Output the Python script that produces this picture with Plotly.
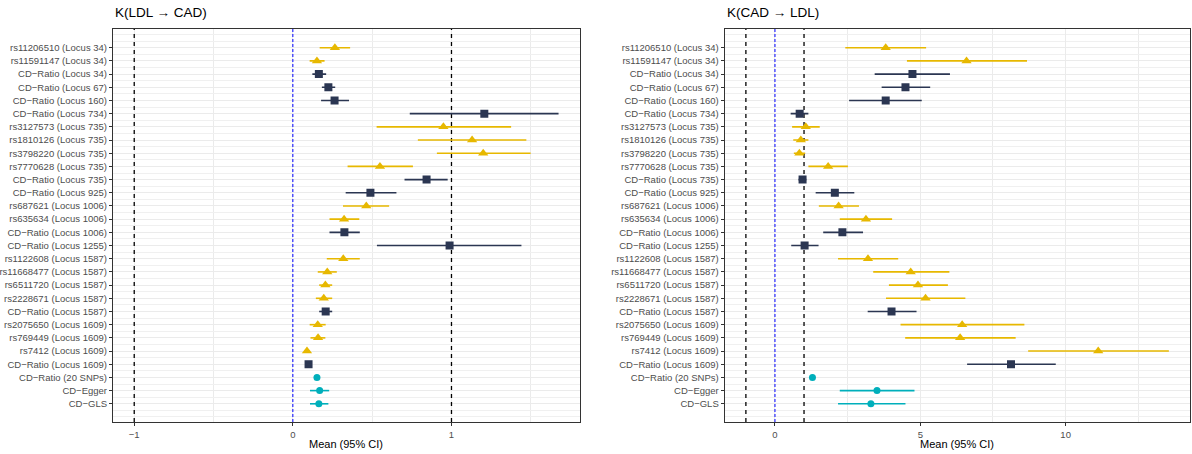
import plotly.graph_objects as go

M = "\u2212"
labels = [
    "rs11206510 (Locus 34)", "rs11591147 (Locus 34)", f"CD{M}Ratio (Locus 34)", f"CD{M}Ratio (Locus 67)",
    f"CD{M}Ratio (Locus 160)", f"CD{M}Ratio (Locus 734)", "rs3127573 (Locus 735)", "rs1810126 (Locus 735)",
    "rs3798220 (Locus 735)", "rs7770628 (Locus 735)", f"CD{M}Ratio (Locus 735)", f"CD{M}Ratio (Locus 925)",
    "rs687621 (Locus 1006)", "rs635634 (Locus 1006)", f"CD{M}Ratio (Locus 1006)", f"CD{M}Ratio (Locus 1255)",
    "rs1122608 (Locus 1587)", "rs11668477 (Locus 1587)", "rs6511720 (Locus 1587)", "rs2228671 (Locus 1587)",
    f"CD{M}Ratio (Locus 1587)", "rs2075650 (Locus 1609)", "rs769449 (Locus 1609)", "rs7412 (Locus 1609)",
    f"CD{M}Ratio (Locus 1609)", f"CD{M}Ratio (20 SNPs)", f"CD{M}Egger", f"CD{M}GLS",
]
kinds = ["snp", "snp", "locus", "locus", "locus", "locus", "snp", "snp", "snp", "snp", "locus", "locus",
         "snp", "snp", "locus", "locus", "snp", "snp", "snp", "snp", "locus", "snp", "snp", "snp",
         "locus", "all", "all", "all"]

# K(LDL -> CAD)
ldl_cad_mean = [0.265, 0.152, 0.164, 0.224, 0.263, 1.207, 0.949, 1.130, 1.200, 0.549, 0.843, 0.489,
                0.463, 0.323, 0.325, 0.988, 0.318, 0.217, 0.205, 0.195, 0.207, 0.157, 0.159, 0.089,
                0.099, 0.152, 0.169, 0.164]
ldl_cad_lo = [0.169, 0.106, 0.123, 0.183, 0.178, 0.737, 0.528, 0.788, 0.908, 0.345, 0.704, 0.333,
              0.316, 0.231, 0.231, 0.530, 0.214, 0.157, 0.166, 0.145, 0.166, 0.106, 0.111, 0.075,
              0.087, 0.140, 0.108, 0.108]
ldl_cad_hi = [0.361, 0.200, 0.210, 0.267, 0.354, 1.675, 1.376, 1.472, 1.499, 0.757, 0.976, 0.653,
              0.607, 0.419, 0.422, 1.441, 0.422, 0.277, 0.248, 0.248, 0.248, 0.207, 0.205, 0.106,
              0.111, 0.166, 0.229, 0.224]

# K(CAD -> LDL)
cad_ldl_mean = [3.81, 6.59, 4.73, 4.49, 3.81, 0.85, 1.06, 0.89, 0.84, 1.83, 0.95, 2.06,
                2.19, 3.13, 2.32, 1.02, 3.20, 4.67, 4.92, 5.18, 4.01, 6.44, 6.37, 11.12,
                8.12, 1.29, 3.51, 3.30]
cad_ldl_lo = [2.42, 4.54, 3.43, 3.67, 2.55, 0.54, 0.59, 0.63, 0.65, 1.15, 0.81, 1.40,
              1.51, 2.23, 1.66, 0.56, 2.17, 3.38, 3.92, 3.82, 3.19, 4.32, 4.48, 8.71,
              6.61, 1.21, 2.23, 2.17]
cad_ldl_hi = [5.20, 8.67, 6.02, 5.34, 5.05, 1.15, 1.54, 1.15, 1.04, 2.51, 1.08, 2.73,
              2.89, 4.03, 3.03, 1.50, 4.24, 6.00, 5.95, 6.55, 4.87, 8.58, 8.28, 13.55,
              9.66, 1.38, 4.80, 4.49]

panel_titles = ["K(LDL \u2192 CAD)", "K(CAD \u2192 LDL)"]
x_title = "Mean (95% CI)"
ref_lines = [-1, 0, 1]
left_ticks = [-1, 0, 1]
right_ticks = [0, 5, 10]

styles = {
    "snp": dict(color="#E7B800", symbol="triangle-up", size=9),
    "locus": dict(color="#2B3652", symbol="square", size=8),
    "all": dict(color="#00AFBB", symbol="circle", size=7),
}

FONT = "Liberation Sans, Arial, sans-serif"
fig = go.Figure()
ypos = list(range(len(labels)))
n = len(labels)
yrange = [n - 1 + 1.38, -1.42]

panels = [
    (ldl_cad_mean, ldl_cad_lo, ldl_cad_hi, "x", "y"),
    (cad_ldl_mean, cad_ldl_lo, cad_ldl_hi, "x2", "y2"),
]
for mean, lo, hi, xa, ya in panels:
    for v in ref_lines:
        blue = v == 0
        fig.add_trace(go.Scatter(
            x=[v, v], y=yrange, mode="lines", xaxis=xa, yaxis=ya, showlegend=False, hoverinfo="skip",
            line=dict(color="blue" if blue else "black", width=1 if blue else 1.3,
                      dash="3px,2px" if blue else "4px,4px")))
    for kind in ["snp", "locus", "all"]:
        idx = [i for i, k in enumerate(kinds) if k == kind]
        st = styles[kind]
        fig.add_trace(go.Scatter(
            x=[mean[i] for i in idx], y=[ypos[i] for i in idx], mode="markers",
            xaxis=xa, yaxis=ya, showlegend=False,
            marker=dict(color=st["color"], symbol=st["symbol"], size=st["size"], line=dict(width=0)),
            error_x=dict(type="data", symmetric=False,
                         array=[hi[i] - mean[i] for i in idx],
                         arrayminus=[mean[i] - lo[i] for i in idx],
                         color=st["color"], thickness=1.6, width=0),
        ))

axis_common = dict(showline=True, mirror=True, linecolor="#333333", linewidth=1.2,
                   ticks="outside", ticklen=3, tickcolor="#333333", zeroline=False, automargin=False,
                   tickfont=dict(family=FONT, size=9.5, color="#4D4D4D"))
yaxis_common = dict(axis_common, range=yrange, tickmode="array", tickvals=ypos,
                    showgrid=True, gridcolor="#EBEBEB", gridwidth=1,
                    minor=dict(dtick=0.5, tick0=0, showgrid=True, gridcolor="#F0F0F0", gridwidth=1, ticks=""))


def xr(lo, hi):
    a = min(min(lo), min(ref_lines))
    b = max(max(hi), max(ref_lines))
    p = 0.05 * (b - a)
    return [a - p, b + p]


fig.update_layout(
    width=1192, height=454, plot_bgcolor="white", paper_bgcolor="white",
    margin=dict(l=113, r=2, t=29, b=32, autoexpand=False),
    font=dict(family=FONT),
    xaxis=dict(axis_common, domain=[0, 0.4334], range=xr(ldl_cad_lo, ldl_cad_hi),
               tickmode="array", tickvals=left_ticks, ticktext=[f"{v}".replace("-", M) for v in left_ticks],
               showgrid=True, gridcolor="#EBEBEB", gridwidth=1,
               minor=dict(dtick=0.5, tick0=0, showgrid=True, gridcolor="#EBEBEB", gridwidth=1, ticks="")),
    yaxis=dict(yaxis_common, anchor="x", ticktext=labels),
    xaxis2=dict(axis_common, domain=[0.568, 1], range=xr(cad_ldl_lo, cad_ldl_hi), anchor="y2",
                tickmode="array", tickvals=right_ticks, ticktext=[str(v) for v in right_ticks],
                showgrid=True, gridcolor="#EBEBEB", gridwidth=1,
                minor=dict(dtick=2.5, tick0=0, showgrid=True, gridcolor="#EBEBEB", gridwidth=1, ticks="")),
    yaxis2=dict(yaxis_common, anchor="x2", ticktext=labels),
)

for title, xa in zip(panel_titles, ["x", "x2"]):
    fig.add_annotation(text=title, xref=f"{xa} domain", yref="paper", x=0, y=1, yshift=7,
                       xanchor="left", yanchor="bottom", showarrow=False,
                       font=dict(family=FONT, size=13.5, color="black"))
    fig.add_annotation(text=x_title, xref=f"{xa} domain", yref="paper", x=0.5, y=0, yshift=-14,
                       xanchor="center", yanchor="top", showarrow=False,
                       font=dict(family=FONT, size=11, color="black"))

fig.write_html("out.html", config={"displayModeBar": False},
               post_script="document.body.style.margin='0';")
